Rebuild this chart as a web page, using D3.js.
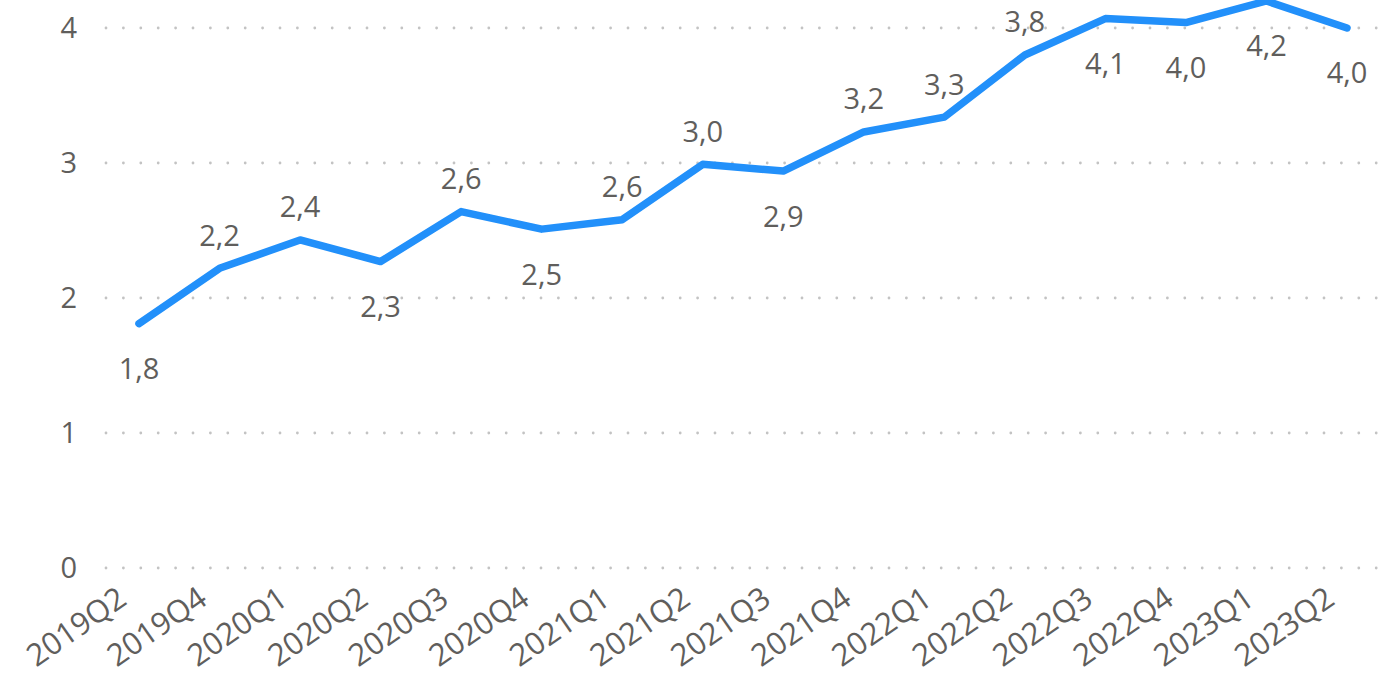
<!DOCTYPE html>
<html><head><meta charset="utf-8">
<script src="https://cdn.jsdelivr.net/npm/d3@7"></script>
<style>
html,body{margin:0;padding:0;background:#fff;overflow:hidden;}
text{font-family:"Open Sans","Noto Sans",sans-serif;fill:#605E5C;}
</style></head>
<body><svg id="c" width="1379" height="675"></svg>
<script>
const categories = ["2019Q2","2019Q4","2020Q1","2020Q2","2020Q3","2020Q4","2021Q1","2021Q2","2021Q3","2021Q4","2022Q1","2022Q2","2022Q3","2022Q4","2023Q1","2023Q2"];
const values = [1.81,2.22,2.43,2.27,2.64,2.51,2.58,2.99,2.94,3.23,3.34,3.80,4.07,4.04,4.20,4.00];
const labelSide = ["below","above","above","below","above","below","above","above","below","above","above","above","below","below","below","below"];
const yTicks = [0,1,2,3,4];

const svg = d3.select("#c");
const x = d3.scalePoint().domain(categories).range([139,1347]);
const y = d3.scaleLinear().domain([0,4]).range([568,28]);
const fmt = v => d3.format(".1f")(v).replace(".", ",");

// gridlines
svg.append("g").selectAll("line").data(yTicks).join("line")
  .attr("x1",106).attr("x2",1379)
  .attr("y1",d=>y(d)).attr("y2",d=>y(d))
  .attr("stroke","#c3c3c3").attr("stroke-width",2.8)
  .attr("stroke-linecap","round").attr("stroke-dasharray","0 17.4");

// y axis labels
const yAxis = d3.axisLeft(y).tickValues(yTicks).tickSize(0).tickPadding(0).tickFormat(d3.format("d"));
const yg = svg.append("g").attr("transform","translate(77,0)").call(yAxis);
yg.select(".domain").remove();
yg.selectAll("text").attr("font-size",29).attr("fill","#605E5C")
  .style("font-family","'Open Sans','Noto Sans',sans-serif");

// x axis labels
const xAxis = d3.axisBottom(x).tickSize(0).tickPadding(0);
const xg = svg.append("g").attr("transform","translate(0,568)").call(xAxis);
xg.select(".domain").remove();
xg.selectAll("text").attr("font-size",31).attr("fill","#666464")
  .style("font-family","'Open Sans','Noto Sans',sans-serif")
  .attr("text-anchor","end").attr("y",0).attr("dy",0)
  .attr("transform","translate(-11,35) rotate(-35)");

// line
const line = d3.line().x((d,i)=>x(categories[i])).y(d=>y(d));
svg.append("path").datum(values)
  .attr("d",line).attr("fill","none")
  .attr("stroke","#2290FA").attr("stroke-width",7.5)
  .attr("stroke-linecap","round").attr("stroke-linejoin","round");

// data labels
svg.append("g").selectAll("text").data(values).join("text")
  .attr("x",(d,i)=>x(categories[i]))
  .attr("y",(d,i)=>y(d) + (labelSide[i]==="above" ? -33 : 45))
  .attr("dy","0.36em")
  .attr("text-anchor","middle")
  .attr("font-size",29)
  .text(d=>fmt(d));
</script></body></html>
